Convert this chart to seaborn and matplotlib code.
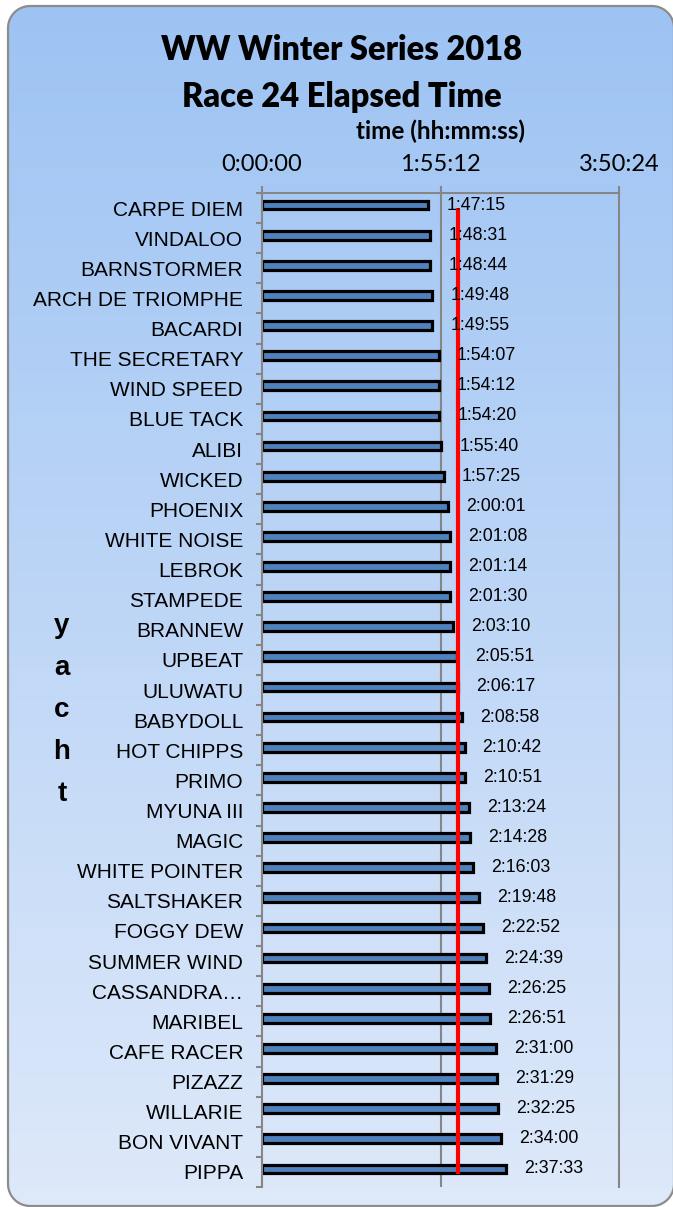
import numpy as np
import pandas as pd
import matplotlib
matplotlib.use("Agg")
import matplotlib.pyplot as plt
import seaborn as sns
from matplotlib.patches import PathPatch
from matplotlib.path import Path
from matplotlib.transforms import Affine2D

# ---------------- data ----------------
yachts = ["CARPE DIEM", "VINDALOO", "BARNSTORMER", "ARCH DE TRIOMPHE", "BACARDI",
          "THE SECRETARY", "WIND SPEED", "BLUE TACK", "ALIBI", "WICKED", "PHOENIX",
          "WHITE NOISE", "LEBROK", "STAMPEDE", "BRANNEW", "UPBEAT", "ULUWATU",
          "BABYDOLL", "HOT CHIPPS", "PRIMO", "MYUNA III", "MAGIC", "WHITE POINTER",
          "SALTSHAKER", "FOGGY DEW", "SUMMER WIND", "CASSANDRA…", "MARIBEL",
          "CAFE RACER", "PIZAZZ", "WILLARIE", "BON VIVANT", "PIPPA"]
elapsed = ["1:47:15", "1:48:31", "1:48:44", "1:49:48", "1:49:55", "1:54:07", "1:54:12",
           "1:54:20", "1:55:40", "1:57:25", "2:00:01", "2:01:08", "2:01:14", "2:01:30",
           "2:03:10", "2:05:51", "2:06:17", "2:08:58", "2:10:42", "2:10:51", "2:13:24",
           "2:14:28", "2:16:03", "2:19:48", "2:22:52", "2:24:39", "2:26:25", "2:26:51",
           "2:31:00", "2:31:29", "2:32:25", "2:34:00", "2:37:33"]
x_tick_labels = ["0:00:00", "1:55:12", "3:50:24"]
title_lines = ["WW Winter Series 2018", "Race 24 Elapsed Time"]
x_title = "time (hh:mm:ss)"
y_title = "yacht"


def to_sec(s):
    h, m, sec = (int(p) for p in s.split(":"))
    return h * 3600 + m * 60 + sec


seconds = [to_sec(t) for t in elapsed]
tick_secs = [to_sec(t) for t in x_tick_labels]
df = pd.DataFrame({"yacht": yachts, "seconds": seconds, "label": elapsed})
median_time = float(np.median(seconds))
n = len(yachts)

# ---------------- style ----------------
sns.set_theme(style="white")
plt.rcParams['font.family'] = ['Liberation Sans', 'DejaVu Sans']
plt.rcParams['text.color'] = 'black'
GRAY = "#868686"
TITLE_FONT = ["Lato", "DejaVu Sans"]

W, H = 673, 1207
fig = plt.figure(figsize=(W / 100, H / 100), dpi=100)
fig.patch.set_facecolor("white")

# pixel (top-down) -> figure transform
pix = Affine2D().scale(1 / W, -1 / H).translate(0, 1) + fig.transFigure


def rounded_rect(x0, y0, x1, y1, r, k=12):
    t = np.linspace(0, np.pi / 2, k)
    pts = []
    # top-left, top-right, bottom-right, bottom-left (y grows downward)
    for cx, cy, a0 in [(x0 + r, y0 + r, np.pi), (x1 - r, y0 + r, 1.5 * np.pi),
                       (x1 - r, y1 - r, 0.0), (x0 + r, y1 - r, 0.5 * np.pi)]:
        a = a0 + t
        pts.extend(zip(cx + r * np.cos(a), cy + r * np.sin(a)))
    pts.append(pts[0])
    codes = [Path.MOVETO] + [Path.LINETO] * (len(pts) - 2) + [Path.CLOSEPOLY]
    return Path(np.array(pts), codes)


# background rounded panel with vertical gradient
top_c = np.array([157, 195, 243]) / 255
bot_c = np.array([222, 233, 250]) / 255
g = np.linspace(0, 1, H)[:, None, None]
img = top_c[None, None, :] + (bot_c - top_c)[None, None, :] * g
img = np.broadcast_to(img, (H, W, 3)).copy()
fim = fig.figimage(img, xo=0, yo=0, origin="upper", zorder=-20)
box = PathPatch(rounded_rect(8, 6, 674, 1206, 22), transform=pix,
                facecolor="none", edgecolor="#8c8c8c", linewidth=1.6, zorder=-15)
fig.add_artist(box)
fim.set_clip_path(box)

# ---------------- main axes ----------------
ax = fig.add_axes([262 / W, 1 - 1187 / H, (619 - 262) / W, (1187 - 193) / H])
ax.patch.set_alpha(0)

ax.axvline(tick_secs[1], color=GRAY, lw=1.5, zorder=0)

sns.barplot(data=df, x="seconds", y="yacht", order=yachts, orient="h",
            color="#4F81BD", saturation=1, width=0.29, errorbar=None,
            edgecolor="black", linewidth=2.3, ax=ax, zorder=2)

ax.plot([median_time, median_time], [0.1, n - 0.83], color="red", lw=3,
        solid_capstyle="butt", zorder=3)

for i, (s, lbl) in enumerate(zip(seconds, elapsed)):
    ax.annotate(lbl, xy=(s, i), xytext=(13, 0), textcoords="offset points",
                ha="left", va="center", fontsize=12.8, color="black", zorder=4)

ax.set_xlim(0, tick_secs[-1])
ax.set_ylim(n - 0.4, -0.4)
ax.set_xlabel("")
ax.set_ylabel("")

# x axis on top
ax.xaxis.tick_top()
ax.set_xticks(tick_secs)
ax.set_xticklabels(x_tick_labels)
for lab in ax.get_xticklabels():
    lab.set_fontfamily(TITLE_FONT)
ax.tick_params(axis="x", top=True, bottom=False, length=5, width=1.5,
               color=GRAY, pad=8, labelsize=17, labelcolor="black")

# y axis categories
ax.set_yticks(np.arange(n) + 0.1)
ax.set_yticklabels(yachts)
ax.set_yticks(np.arange(n + 1) - 0.4, minor=True)
ax.tick_params(axis="y", which="major", length=0, pad=13.5, labelsize=15,
               labelcolor="black")
ax.tick_params(axis="y", which="minor", left=True, length=4.3, width=1.5,
               color=GRAY, direction="out")

for side in ["left", "top", "right"]:
    ax.spines[side].set_visible(True)
    ax.spines[side].set_color(GRAY)
    ax.spines[side].set_linewidth(1.5)
ax.spines["bottom"].set_visible(False)

# ---------------- texts ----------------
fig.text(342 / W, 1 - 50 / H, title_lines[0], ha="center", va="center",
         fontsize=23.5, fontweight="heavy", family=TITLE_FONT, color="black")
fig.text(342 / W, 1 - 97 / H, title_lines[1], ha="center", va="center",
         fontsize=23.5, fontweight="heavy", family=TITLE_FONT, color="black")
fig.text(441 / W, 1 - 131 / H, x_title, ha="center", va="center",
         fontsize=17.5, fontweight="bold", family=TITLE_FONT, color="black")
fig.text(62 / W, 1 - 710 / H, "\n".join(y_title), ha="center", va="center",
         multialignment="center", fontsize=20, fontweight="bold",
         linespacing=1.8, color="black")

fig.savefig("out.png", dpi=100)
